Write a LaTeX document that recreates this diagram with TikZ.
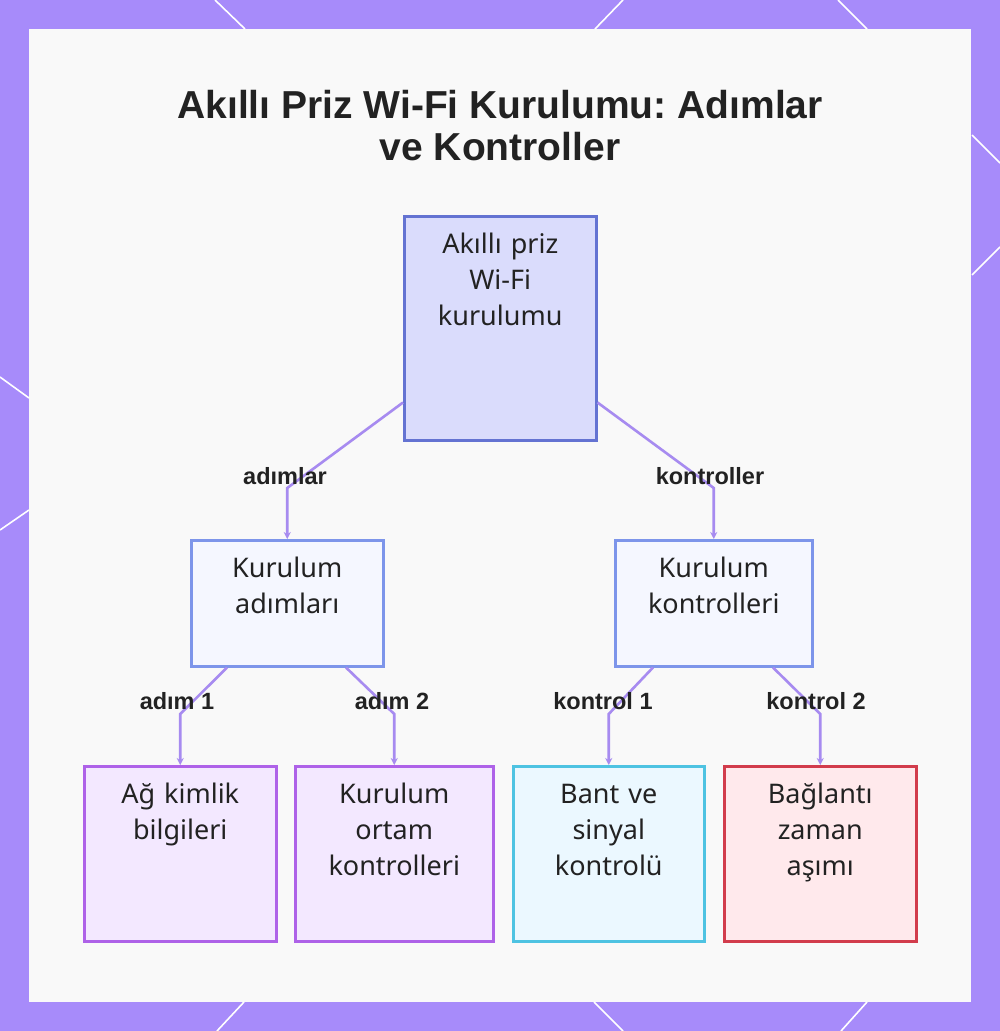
\documentclass[tikz,border=0pt]{standalone}
\usepackage{fontspec}
\setmainfont{Noto Sans}
\newfontfamily\boldsans{Liberation Sans}
\usetikzlibrary{calc,arrows.meta}
\frenchspacing
\definecolor{frame}{HTML}{A78BFA}
\definecolor{panel}{HTML}{F9F9F9}
\definecolor{ink}{HTML}{222222}
\definecolor{conncol}{HTML}{A78BF0}
\definecolor{rootfill}{HTML}{DADCFC}
\definecolor{rootdraw}{HTML}{6473D2}
\definecolor{midfill}{HTML}{F5F7FF}
\definecolor{middraw}{HTML}{7D95EA}
\definecolor{purfill}{HTML}{F3E8FF}
\definecolor{purdraw}{HTML}{AE62E8}
\definecolor{cyanfill}{HTML}{EBF8FF}
\definecolor{cyandraw}{HTML}{4EC3E2}
\definecolor{redfill}{HTML}{FFE9EC}
\definecolor{reddraw}{HTML}{D23C4C}
\tikzset{
  box/.style={draw, line width=2.5pt, inner sep=0pt, anchor=north west},
  boxtext/.style={anchor=base, inner sep=0pt, text width=190pt, align=center, text=ink,
    font={\fontsize{27}{36}\selectfont}},
  lbl/.style={inner sep=0pt, text=ink, font={\boldsans\bfseries\fontsize{23.5}{26}\selectfont}},
  conn/.style={draw=conncol, line width=2.6pt, -{Stealth[length=7pt,width=7pt]}},
  deco/.style={draw=white, line width=1.6pt}
}
\begin{document}
\begin{tikzpicture}[x=1pt,y=-1pt]
\useasboundingbox (0,0) rectangle (1000,1031);
\fill[frame] (0,0) rectangle (1000,1031);
\fill[panel] (29,29) rectangle (971,1002);
% decorative lines on the frame
\draw[deco] (215,0) -- (245,29);
\draw[deco] (623,0) -- (595,29);
\draw[deco] (838,0) -- (867,29);
\draw[deco] (972,135) -- (1000,163);
\draw[deco] (972,275) -- (1000,247);
\draw[deco] (0,377) -- (29,398);
\draw[deco] (29,510) -- (0,530);
\draw[deco] (244,1002) -- (217,1031);
\draw[deco] (594,1002) -- (623,1031);
\draw[deco] (867,1002) -- (841,1031);
% title
\node[anchor=base, inner sep=0pt, text=ink, align=center, font={\boldsans\bfseries\fontsize{39}{42}\selectfont}] (title) at (500,160)
  {Akıllı Priz Wi-Fi Kurulumu: Adımlar\\ve Kontroller};
% boxes
\node[box, fill=rootfill, draw=rootdraw, minimum width=192pt, minimum height=224pt] (root) at (403,215) {};
\node[box, fill=midfill, draw=middraw, minimum width=192pt, minimum height=126pt] (steps) at (190,539) {};
\node[box, fill=midfill, draw=middraw, minimum width=197pt, minimum height=126pt] (checks) at (614,539) {};
\node[box, fill=purfill, draw=purdraw, minimum width=192pt, minimum height=175pt] (cred) at (83,765) {};
\node[box, fill=purfill, draw=purdraw, minimum width=198pt, minimum height=175pt] (env) at (294,765) {};
\node[box, fill=cyanfill, draw=cyandraw, minimum width=191pt, minimum height=175pt] (band) at (512,765) {};
\node[box, fill=redfill, draw=reddraw, minimum width=192pt, minimum height=175pt] (timeout) at (723,765) {};
% box texts
\node[boxtext] (rootT) at ($(root.north)+(0,38)$) {Akıllı priz\\Wi-Fi\\kurulumu};
\node[boxtext] (stepsT) at ($(steps.north)+(0,38)$) {Kurulum\\adımları};
\node[boxtext] (checksT) at ($(checks.north)+(0,38)$) {Kurulum\\kontrolleri};
\node[boxtext] (credT) at ($(cred.north)+(0,38)$) {Ağ kimlik\\bilgileri};
\node[boxtext] (envT) at ($(env.north)+(0,38)$) {Kurulum\\ortam\\kontrolleri};
\node[boxtext] (bandT) at ($(band.north)+(0,38)$) {Bant ve\\sinyal\\kontrolü};
\node[boxtext] (timeoutT) at ($(timeout.north)+(0,38)$) {Bağlantı\\zaman\\aşımı};
% connectors
\coordinate (r1) at ($(root.south west)+(0,-39)$);
\coordinate (r2) at ($(root.south east)+(0,-39)$);
\draw[conn] (r1) -- (steps.north |- 0,488) -- (steps.north);
\draw[conn] (r2) -- (checks.north |- 0,488) -- (checks.north);
\draw[conn] ($(steps.south west)+(37,0)$) -- (cred.north |- 0,714) -- (cred.north);
\draw[conn] ($(steps.south west)+(156,0)$) -- (env.north |- 0,714) -- (env.north);
\draw[conn] ($(checks.south west)+(39,0)$) -- (band.north |- 0,714) -- (band.north);
\draw[conn] ($(checks.south west)+(159,0)$) -- (timeout.north |- 0,714) -- (timeout.north);
% labels
\node[lbl] (l1) at (285,476) {adımlar};
\node[lbl] (l2) at (710,476) {kontroller};
\node[lbl] (l3) at (177,701) {adım 1};
\node[lbl] (l4) at (392,701) {adım 2};
\node[lbl] (l5) at (603,701) {kontrol 1};
\node[lbl] (l6) at (816,701) {kontrol 2};
\end{tikzpicture}
\end{document}
